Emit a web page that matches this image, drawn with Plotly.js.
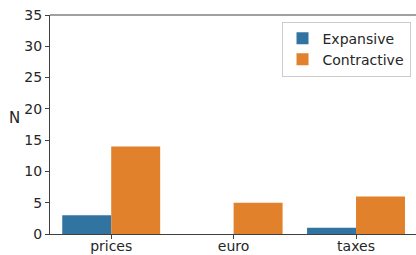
<!DOCTYPE html>
<html>
<head>
<meta charset="utf-8">
<script src="https://cdn.plot.ly/plotly-3.0.1.min.js"></script>
<style>html,body{margin:0;padding:0;background:#fff;overflow:hidden;}#chart{width:416px;height:255px;}</style>
</head>
<body>
<div id="chart"></div>
<script>
const categories = ["prices", "euro", "taxes"];
const expansive = [3, 0, 1];
const contractive = [14, 5, 6];
const seriesNames = ["Expansive", "Contractive"];
const yLabel = "N";
const colors = ["#3274a1", "#e1812c"];

const traces = [
  {type: "bar", name: seriesNames[0], x: categories, y: expansive, marker: {color: colors[0], line: {width: 0}}},
  {type: "bar", name: seriesNames[1], x: categories, y: contractive, marker: {color: colors[1], line: {width: 0}}}
];

const layout = {
  width: 416, height: 255,
  margin: {l: 50, r: 0, t: 15, b: 21, pad: 0},
  paper_bgcolor: "#fff", plot_bgcolor: "#fff",
  font: {family: "DejaVu Sans", size: 14, color: "#262626"},
  barmode: "group", bargap: 0.2, bargroupgap: 0,
  showlegend: true,
  legend: {x: 0.985, y: 0.97, xanchor: "right", yanchor: "top", bgcolor: "rgba(255,255,255,0.8)", bordercolor: "#cccccc", borderwidth: 1, font: {size: 14}, itemwidth: 30, tracegroupgap: 0},
  xaxis: {type: "category", range: [-0.5, 2.49], showline: true, linecolor: "#404040", linewidth: 1, ticks: "outside", ticklen: 4, tickcolor: "#404040", showgrid: false, zeroline: false, tickfont: {size: 14}, ticklabelstandoff: -5},
  yaxis: {range: [0, 35], dtick: 5, showline: true, linecolor: "#404040", linewidth: 1, ticks: "outside", ticklen: 4, tickcolor: "#404040", showgrid: false, zeroline: false, tickfont: {size: 14}},
  shapes: [{type: "line", xref: "paper", yref: "paper", x0: 0, x1: 1, y0: 1, y1: 1, line: {color: "#404040", width: 1}}],
  annotations: [{text: yLabel, xref: "paper", yref: "paper", x: -0.098, y: 0.53, xanchor: "center", yanchor: "middle", showarrow: false, font: {size: 15}}]
};

Plotly.newPlot("chart", traces, layout, {displayModeBar: false, staticPlot: true});
</script>
</body>
</html>
